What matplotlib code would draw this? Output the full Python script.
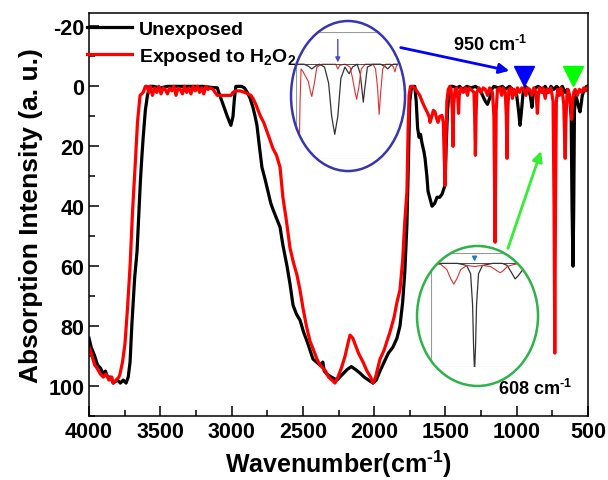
import matplotlib
matplotlib.use("Agg")
import matplotlib.pyplot as plt
from matplotlib.patches import Ellipse
from matplotlib.ticker import MultipleLocator

plt.rcParams['font.family'] = ['Liberation Sans', 'DejaVu Sans']
plt.rcParams['font.weight'] = 'bold'
plt.rcParams['axes.unicode_minus'] = False
plt.rcParams['mathtext.fontset'] = 'custom'
plt.rcParams['mathtext.rm'] = 'Liberation Sans:bold'
plt.rcParams['mathtext.it'] = 'Liberation Sans:bold'
plt.rcParams['mathtext.bf'] = 'Liberation Sans:bold'
plt.rcParams['mathtext.default'] = 'rm'

# ---- main spectra (wavenumber, absorption) ----
wn_unexp = [4000, 3985, 3960, 3940, 3920, 3900, 3885, 3870, 3850, 3830, 3800, 3780, 3760, 3740,
            3725, 3712, 3700, 3690, 3680, 3663, 3650, 3640, 3630, 3620, 3605, 3590, 3575,
            3550, 3500, 3450, 3400, 3350, 3300, 3250, 3200, 3150, 3100,
            3090, 3060, 3030, 3005, 2990, 2980, 2970, 2930, 2910, 2890, 2870, 2850, 2835, 2822,
            2805, 2787, 2765, 2745, 2725, 2710, 2685, 2660, 2640, 2611, 2590, 2569, 2545, 2520,
            2495, 2471, 2450, 2429, 2405, 2380, 2360, 2350, 2331, 2300, 2261, 2240, 2220, 2190,
            2160, 2130, 2099, 2070, 2040, 2008, 1985, 1959, 1930, 1900, 1868, 1840, 1819, 1800,
            1785, 1770, 1760, 1750, 1740, 1727, 1715, 1705, 1695, 1685, 1675, 1664, 1650, 1643,
            1630, 1622, 1605, 1594, 1575, 1559, 1540, 1524, 1510, 1503, 1495, 1485, 1475, 1468,
            1450, 1420, 1400, 1380, 1350, 1320, 1290, 1260, 1240, 1220, 1205, 1190, 1175, 1160,
            1130, 1100, 1080, 1050, 1020, 1000, 985, 977, 968, 955, 940, 920, 905, 893, 885, 870,
            850, 820, 800, 780, 760, 740, 720, 700, 680, 660, 645, 630, 618, 612, 605, 600, 595,
            585, 575, 565, 556, 548, 540, 525, 510, 500]
ab_unexp = [84, 87, 90, 93, 94, 96, 95, 97, 97, 99, 98, 99, 98, 99,
            97, 92, 80, 72, 64, 55, 42, 32, 24, 17, 8, 3, 0,
            0, 0.5, 0, 0, 0, 0, 0, 0, 0.3, 0.5,
            2, 6, 10, 13, 10, 4, 0, 0, 0.5, 2, 4, 7, 10, 13,
            20, 27, 31, 35, 39, 41, 44, 47, 53, 60, 66, 73, 76, 78,
            82, 85, 88, 91, 92, 93, 92, 95, 96, 97, 98, 97, 96, 94.5,
            93.5, 94.5, 95.7, 97, 98, 99, 98, 95, 92, 89, 87, 84, 80, 72,
            62, 46, 25, 5, 1, 0, 0, 5, 14, 17, 16, 19, 22, 24,
            30, 35, 38, 40, 39, 37, 37, 36, 34, 33, 20, 8, 2, 0,
            0, 0.5, 0, 1, 0, 0.5, 0, 1, 3, 5, 6, 4, 1, 0,
            0.5, 0, 1, 0, 1.5, 3, 9, 13, 9, 2, 0, 1, 3, 7, 3, 0.5,
            0, 1, 0, 2, 0, 1, 0, 1, 0, 2, 1, 3, 10, 40, 60, 40, 8,
            3, 5, 7, 8.5, 6, 3, 1, 0, 0]

wn_exp = [4000, 3985, 3960, 3944, 3920, 3900, 3880, 3860, 3840, 3832, 3810, 3790, 3783, 3765,
          3748, 3730, 3712, 3695, 3677, 3660, 3642, 3620, 3605, 3593,
          3580, 3570, 3555, 3540, 3525, 3510, 3495, 3480, 3465, 3450, 3435, 3420, 3405, 3390,
          3375, 3360, 3345, 3330, 3315, 3300, 3285, 3270, 3255, 3240, 3225, 3210, 3195, 3180,
          3165, 3150, 3130, 3116, 3100, 3060, 3030, 3004, 2990, 2970, 2940, 2910, 2885, 2865,
          2850, 2830, 2800, 2775, 2752, 2730, 2710, 2685, 2660, 2640, 2615, 2590, 2565, 2541,
          2520, 2499, 2475, 2450, 2425, 2401, 2380, 2359, 2340, 2320, 2296, 2275, 2254, 2230,
          2204, 2185, 2169, 2150, 2134, 2110, 2078, 2050, 2025, 2008, 1990, 1959, 1930, 1910,
          1889, 1860, 1840, 1819, 1800, 1785, 1770, 1762, 1755, 1745, 1730, 1715, 1699, 1680,
          1664, 1645, 1629, 1615, 1608, 1595, 1585, 1573, 1560, 1552, 1540, 1524, 1515, 1508,
          1503, 1497, 1490, 1480, 1468,
          1460, 1452, 1447, 1442, 1432, 1420, 1413, 1408, 1403, 1390, 1375, 1360, 1345, 1335,
          1320, 1300, 1295, 1290, 1285, 1280, 1265, 1250, 1235, 1220, 1205, 1190, 1170, 1160,
          1155, 1152, 1149, 1144, 1135, 1120, 1105, 1095, 1080, 1073, 1068, 1063, 1055, 1040,
          1030, 1020, 1005, 995, 980, 965, 950, 935, 925, 910, 895, 880, 865, 855, 848, 840,
          825, 815, 800, 790, 775, 760, 745, 738, 733, 728, 722, 712, 700, 690, 680, 670, 665,
          660, 655, 648, 640, 630, 620, 615, 608, 600, 590, 575, 560, 545, 530, 515, 500]
ab_exp = [87, 89, 93, 94, 96, 97, 96, 98, 97, 99, 98, 97, 96, 92,
          86, 74, 60, 42, 27, 12, 3, 2, 0, 0,
          2, 0, 3, 0.5, 2, 0, 2.5, 0.5, 1, 2.5, 0.5, 1.5, 0, 3,
          0.5, 1, 2.5, 0, 2, 0.5, 2.5, 0, 1.5, 0, 2, 0.5, 2.5, 0,
          1, 0.5, 1, 2, 3, 3, 3, 3, 2, 1.5, 1.5, 2, 2.5, 3,
          4, 6, 9.7, 12, 15, 18, 20.7, 23, 27, 37, 45, 54, 59, 63,
          68, 74, 80, 85, 88, 91, 93, 94, 95, 97, 98, 99, 97, 94,
          90, 86, 83, 84, 86, 89, 92, 95, 97, 99, 97, 91, 88, 85,
          82, 77, 72, 68, 58, 45, 35, 15, 3, 0, 0, 0.5, 1.7, 3,
          5, 7, 8.5, 10, 12, 10, 8, 8.5, 11, 12, 10, 9.7, 12, 25,
          33, 20, 5, 1, 0,
          1, 8, 20, 6, 1, 0.5, 4, 9, 3, 0.5, 2, 0.5, 3, 0.5,
          1, 2, 10, 23, 10, 2, 0.5, 2, 0.5, 1, 3, 0.5, 2, 10,
          35, 52, 35, 8, 1, 0.5, 3, 0.5, 2, 10, 24, 8, 1, 0.5,
          4, 1, 3, 0.5, 2, 0.5, 1, 3, 0.5, 1, 3, 0.5, 2, 9, 3, 0.5,
          2, 0.5, 4, 1, 2, 0.5, 5, 40, 89, 40, 5, 1, 3, 0.5, 2, 6, 15,
          24, 12, 3, 1, 3, 7, 11, 5, 2, 1, 3, 1, 2, 0.5, 1.5, 0]

# ---- zoomed spectra shown in the circles ----
wn_blue_unexp = [1036, 1020, 1012, 1005, 998, 990, 980, 972, 966, 960, 954, 948, 940, 932, 925,
                 916, 910, 906, 904, 901, 896, 885, 870, 860, 856, 851, 845, 836]
ab_blue_unexp = [0, 0, 2, 5, 2, 0, 3, 20, 55, 74, 55, 15, 3, 10, 3,
                 0, 10, 30, 40, 25, 3, 0, 0, 3, 5, 2, 0, 0]
wn_blue_exp = [1036, 1030, 1028, 1026, 1022, 1018, 1012, 1008, 1005, 1000, 995, 985, 970, 958,
               954, 950, 940, 930, 925, 920, 917, 913, 908, 900, 885, 880, 876, 873, 870, 866,
               860, 850, 845, 842, 839, 836]
ab_blue_exp = [100, 100, 40, 5, 8, 12, 18, 28, 34, 20, 3, 0, 0, 0,
               5, 1, 0, 3, 15, 30, 37, 25, 5, 0, 0, 5, 25, 53, 30, 5,
               0, 0, 3, 8, 2, 0]
wn_green_unexp = [652, 640, 625, 616, 612, 610, 609, 608, 607, 606, 604, 600, 590, 580, 575,
                  570, 567, 564, 560, 556, 552]
ab_green_unexp = [0, 0, 0, 2, 10, 40, 80, 105, 80, 40, 10, 2, 0, 0, 2,
                  10, 15, 12, 7, 3, 1]
wn_green_exp = [652, 642, 636, 632, 629, 626, 622, 616, 608, 600, 592, 587, 584, 582, 579,
                575, 568, 560, 552]
ab_green_exp = [0, 1, 6, 15, 20, 15, 6, 2, 3, 2, 3, 6, 8, 9, 7,
                3, 1, 0, 0]

fig = plt.figure(figsize=(6.08, 4.81), dpi=100)
ax = fig.add_axes([0.1464, 0.133, 0.8207, 0.838])

ax.plot(wn_unexp, ab_unexp, color='black', lw=2.3, label='Unexposed')
ax.plot(wn_exp, ab_exp, color='#ff0000', lw=2.3, label='Exposed to H$_2$O$_2$')

ax.set_xlim(4000, 500)
ax.set_ylim(110, -24.5)
ax.xaxis.set_major_locator(MultipleLocator(500))
ax.xaxis.set_minor_locator(MultipleLocator(250))
ax.yaxis.set_major_locator(MultipleLocator(20))
ax.yaxis.set_minor_locator(MultipleLocator(10))
ax.tick_params(which='both', direction='in', top=False, right=False, labelsize=15.5, width=1.1)
ax.tick_params(which='major', length=7)
ax.tick_params(which='minor', length=4)
for s in ax.spines.values():
    s.set_linewidth(1.1)

ax.set_xlabel(r'Wavenumber(cm$^{\text{-1}}$)', fontsize=18, fontweight='bold', labelpad=4)
ax.set_ylabel('Absorption Intensity (a. u.)', fontsize=19, fontweight='bold', labelpad=4)

ax.legend(loc='upper left', bbox_to_anchor=(-0.004, 0.982), frameon=False, fontsize=14,
          handlelength=2.3, handletextpad=0.35, labelspacing=0.42, borderaxespad=0,
          borderpad=0)

# markers for the two bands
ax.plot([950], [-3.5], marker='v', ms=14, color='#0000ff', ls='none')
ax.plot([608], [-3.5], marker='v', ms=14, color='#00ff00', ls='none')

ax.text(1187, -14.3, r'950 cm$^{\text{-1}}$', fontsize=13, ha='center', va='center')
ax.text(872, 100.5, r'608 cm$^{\text{-1}}$', fontsize=13, ha='center', va='center')

# arrows from circles to the bands
ax.annotate('', xy=(1033, -5), xycoords='data', xytext=(0.6546, 0.9002),
            textcoords='figure fraction',
            arrowprops=dict(arrowstyle='-|>', color='#0000ff', lw=2, mutation_scale=15))
ax.annotate('', xy=(823, 20.7), xycoords='data', xytext=(0.8339, 0.4761),
            textcoords='figure fraction',
            arrowprops=dict(arrowstyle='-|>', color='#33ee33', lw=2, mutation_scale=15))


def circle_inset(center, size, rect, edge, xlim, ylim, black, red, arrow, arrow_color):
    bg = Ellipse(center, size[0], size[1], transform=fig.transFigure,
                 facecolor='white', edgecolor='none', zorder=1)
    fig.add_artist(bg)
    ins = fig.add_axes(rect, zorder=2)
    ins.patch.set_alpha(0)
    ins.plot(black[0], black[1], color='#333333', lw=0.9)
    ins.plot(red[0], red[1], color='#e03030', lw=0.8)
    ins.set_xlim(*xlim)
    ins.set_ylim(*ylim)
    ins.set_xticks([])
    ins.set_yticks([])
    ins.axhline(0, color='#333333', lw=0.6)
    for s in ins.spines.values():
        s.set_color('#999999')
        s.set_linewidth(0.8)
    ins.annotate('', xy=(arrow, 1), xytext=(arrow, ylim[1] * 0.85),
                 arrowprops=dict(arrowstyle='-|>', color=arrow_color, lw=1, mutation_scale=7))
    clip = Ellipse(center, size[0], size[1], transform=fig.transFigure)
    for art in list(ins.lines) + list(ins.spines.values()) + list(ins.texts):
        art.set_clip_path(clip)
    ring = Ellipse(center, size[0], size[1], transform=fig.transFigure,
                   facecolor='none', edgecolor=edge, lw=1.8, zorder=3)
    fig.add_artist(ring)
    return ins


circle_inset((0.5724, 0.7983), (0.1875, 0.3119), [0.4868, 0.6674, 0.1678, 0.264], '#3636b0',
             (1036, 836), (100, -34), (wn_blue_unexp, ab_blue_unexp), (wn_blue_exp, ab_blue_exp),
             954, '#4a4ad0')
circle_inset((0.7854, 0.341), (0.199, 0.291), [0.7089, 0.2349, 0.1628, 0.237], '#2db34a',
             (652, 552), (100, -10), (wn_green_unexp, ab_green_unexp),
             (wn_green_exp, ab_green_exp), 608, '#1e78c8')

fig.savefig('out.png', dpi=100)
